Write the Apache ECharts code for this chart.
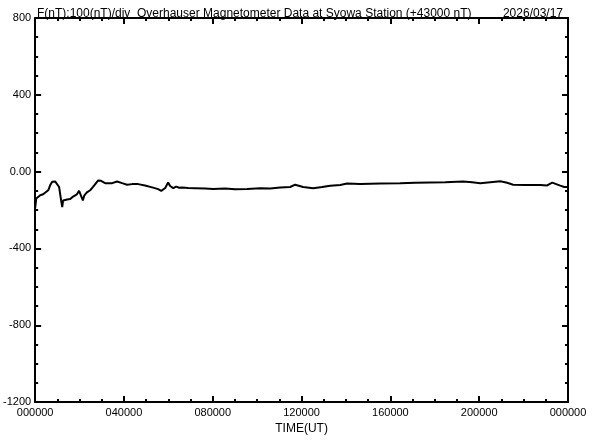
<!DOCTYPE html>
<html>
<head>
<meta charset="utf-8">
<script src="https://cdn.jsdelivr.net/npm/echarts@6/dist/echarts.min.js"></script>
<style>html,body{margin:0;padding:0;background:#fff}#c{width:592px;height:440px}</style>
</head>
<body>
<div id="c"></div>
<script>
var titleText = 'F(nT):100(nT)/div  Overhauser Magnetometer Data at Syowa Station (+43000 nT)';
var dateText = '2026/03/17';
var xName = 'TIME(UT)';
var xTickLabels = ['000000','040000','080000','120000','160000','200000','000000'];
var yTickValues = [-1200,-800,-400,0,400,800];
var yTickLabels = ['-1200','-800','-400','0.00','400','800'];
var timeHours = [0.00,0.05,0.13,0.23,0.36,0.45,0.59,0.68,0.77,0.90,0.99,1.08,1.17,1.22,1.26,1.35,1.44,1.58,1.71,1.88,1.98,2.03,2.15,2.21,2.33,2.48,2.57,2.70,2.84,2.97,3.15,3.24,3.47,3.69,3.92,4.14,4.37,4.64,4.95,5.27,5.54,5.68,5.77,5.86,5.99,6.08,6.22,6.35,6.49,6.62,6.89,7.21,7.66,8.02,8.56,9.01,9.55,10.14,10.59,11.04,11.49,11.71,12.07,12.52,12.93,13.29,13.74,14.05,14.64,15.54,16.44,17.12,17.79,18.47,19.28,19.68,20.05,20.50,20.95,21.26,21.53,22.07,22.75,23.06,23.29,23.47,23.65,23.83,24.00];
var fieldValues = [-190,-140,-130,-123,-118,-108,-97,-70,-53,-51,-60,-80,-150,-185,-150,-160,-145,-143,-130,-118,-100,-95,-150,-125,-108,-97,-85,-66,-46,-48,-60,-65,-60,-51,-60,-68,-65,-65,-72,-82,-91,-100,-108,-85,-56,-75,-86,-78,-84,-82,-85,-86,-88,-91,-88,-92,-91,-87,-88,-82,-80,-68,-80,-86,-80,-73,-70,-62,-64,-62,-60,-58,-56,-55,-51,-55,-60,-55,-50,-58,-68,-70,-70,-72,-57,-65,-73,-80,-80];

var lineData = timeHours.map(function(t, i){ return [t, fieldValues[i]]; });
var font = 'Liberation Sans';
var axisLine = {show:true, onZero:false, lineStyle:{color:'#000', width:2}};
var tick = {show:true, inside:true, length:6, lineStyle:{color:'#000', width:2}};
var minor = {show:true, splitNumber:4, length:3, lineStyle:{color:'#000', width:2}};

var chart = echarts.init(document.getElementById('c'), null, {renderer:'canvas'});
chart.setOption({
  animation:false,
  backgroundColor:'#fff',
  title:[
    {text:titleText, left:32, top:3, textStyle:{fontFamily:font, fontSize:12, fontWeight:'normal', color:'#000'}},
    {text:dateText, right:24, top:3, textStyle:{fontFamily:font, fontSize:12, fontWeight:'normal', color:'#000'}}
  ],
  grid:{left:35, right:24, top:18, bottom:32, containLabel:false},
  xAxis:[
    {type:'value', min:0, max:24, interval:4, position:'bottom',
     axisLine:axisLine, axisTick:tick, minorTick:minor, splitLine:{show:false},
     axisLabel:{fontFamily:font, fontSize:11, color:'#000', margin:5,
       formatter:function(v){ return xTickLabels[Math.round(v/4)]; }},
     name:xName, nameLocation:'middle', nameGap:18,
     nameTextStyle:{fontFamily:font, fontSize:12, color:'#000'}},
    {type:'value', min:0, max:24, interval:4, position:'top',
     axisLine:axisLine, axisTick:tick, minorTick:minor, splitLine:{show:false},
     axisLabel:{show:false}}
  ],
  yAxis:[
    {type:'value', min:-1200, max:800, interval:400, position:'left',
     axisLine:axisLine, axisTick:tick, minorTick:minor, splitLine:{show:false},
     axisLabel:{fontFamily:font, fontSize:11, color:'#000', margin:4,
       formatter:function(v){ var i = yTickValues.indexOf(v); return i>=0 ? yTickLabels[i] : ''; }}},
    {type:'value', min:-1200, max:800, interval:400, position:'right',
     axisLine:axisLine, axisTick:tick, minorTick:minor, splitLine:{show:false},
     axisLabel:{show:false}}
  ],
  series:[{
    type:'line', data:lineData, xAxisIndex:0, yAxisIndex:0,
    showSymbol:false, symbol:'none',
    lineStyle:{color:'#000', width:2}
  }]
});
</script>
</body>
</html>
